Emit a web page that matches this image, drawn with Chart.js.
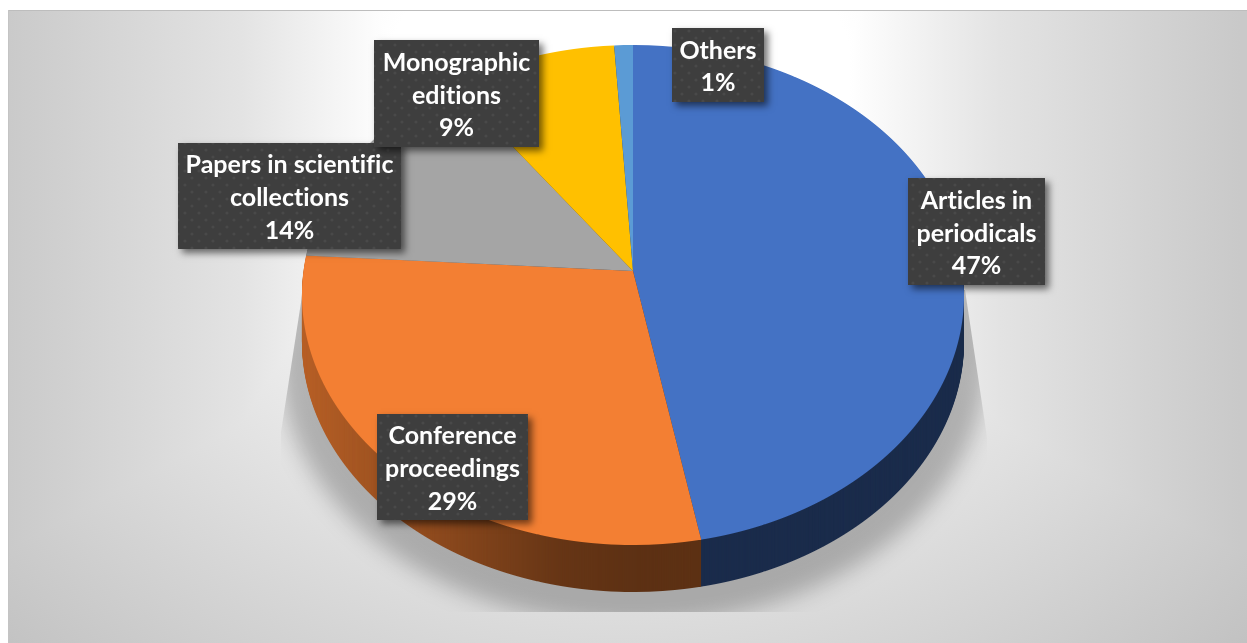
<!DOCTYPE html>
<html>
<head>
<meta charset="utf-8">
<title>Publications by type</title>
<script src="https://cdn.jsdelivr.net/npm/chart.js@4/dist/chart.umd.js"></script>
<style>
  html, body { margin: 0; padding: 0; background: #fff; }
  canvas { display: block; }
</style>
</head>
<body>
<canvas id="pieChart" width="1247" height="643"></canvas>
<script>
const categories = ['Articles in periodicals', 'Conference proceedings', 'Papers in scientific collections', 'Monographic editions', 'Others'];
const shares = [47, 29, 14, 9, 1];
const sliceColors = ['#4472c4', '#f37f33', '#a5a5a5', '#ffc000', '#5b9bd5'];

// where the dark label boxes sit, same order as categories
const labelBoxes = [
  { x: 908, y: 178, w: 137, h: 107 },
  { x: 377, y: 414, w: 151, h: 106 },
  { x: 178, y: 143, w: 223, h: 106 },
  { x: 374, y: 40, w: 165, h: 107 },
  { x: 672, y: 28, w: 92, h: 74 }
];

// tilted disc: apex of the slices on the picture, near side is bigger
const disc = { cx: 633, cy: 271, a: 329.5, b: 247.7, c: 0.096, top: 45, bottom: 546, depth: 47 };

function newLayer(w, h) {
  const c = document.createElement('canvas');
  c.width = w;
  c.height = h;
  return c;
}

// the arcs are painted row by row so that each row gets its own perspective scale
function paintDisc(chart, target) {
  const arcs = chart.getDatasetMeta(0).data;
  const ax = arcs[0].x, ay = arcs[0].y, R = arcs[0].outerRadius;
  for (let y = disc.top; y < disc.bottom; y++) {
    const t = y + 0.5 - disc.cy;
    const v = t / (disc.b + disc.c * t);
    const w = 1 - disc.c * v;
    const sx = disc.a / (w * R);
    const slope = disc.b / (w * w);
    const sy = slope / R;
    target.save();
    target.beginPath();
    target.rect(0, y, chart.width, 1);
    target.clip();
    target.setTransform(sx, 0, 0, sy, disc.cx - sx * ax, y + 0.5 - sy * ay - slope * v);
    arcs.forEach(function (arc) { arc.draw(target); });
    target.restore();
  }
}

const backdrop = {
  id: 'backdrop',
  beforeDraw(chart) {
    const ctx = chart.ctx;
    const W = chart.width, H = chart.height;
    ctx.save();
    ctx.fillStyle = '#fff';
    ctx.fillRect(0, 0, W, H);
    ctx.beginPath();
    ctx.rect(8, 10, W - 8, H - 10);
    ctx.clip();

    // lower falloff
    ctx.save();
    ctx.translate(620, 100);
    ctx.scale(1 / 0.84, 1);
    const low = ctx.createRadialGradient(0, 0, 200, 0, 0, 800);
    low.addColorStop(0, '#ffffff');
    low.addColorStop(1, '#bdbdbd');
    ctx.fillStyle = low;
    ctx.fillRect(-700, -200, 1400, 900);
    ctx.restore();

    // side falloff, the darker of the two wins
    ctx.globalCompositeOperation = 'darken';
    const side = ctx.createLinearGradient(0, 0, 1240, 0);
    side.addColorStop(0, '#c9c9c9');
    side.addColorStop(0.194, '#e3e3e3');
    side.addColorStop(0.315, '#ffffff');
    side.addColorStop(0.685, '#ffffff');
    side.addColorStop(0.806, '#e3e3e3');
    side.addColorStop(1, '#c9c9c9');
    ctx.fillStyle = side;
    ctx.fillRect(0, 0, W, H);
    ctx.restore();

    ctx.fillStyle = '#bdbdbd';
    ctx.fillRect(8, 10, W - 8, 1);
    ctx.fillStyle = '#c4c4c4';
    ctx.fillRect(8, 10, 1, H - 10);
  }
};

const tiltedPie = {
  id: 'tiltedPie',
  beforeDatasetsDraw(chart) {
    const ctx = chart.ctx;
    const W = chart.width, H = chart.height;

    const face = newLayer(W, H);
    paintDisc(chart, face.getContext('2d'));

    // black copy for the cast shadow
    const dark = newLayer(W, H);
    const dctx = dark.getContext('2d');
    dctx.drawImage(face, 0, 0);
    dctx.globalCompositeOperation = 'source-in';
    dctx.fillStyle = '#000';
    dctx.fillRect(0, 0, W, H);

    ctx.save();
    ctx.beginPath();
    ctx.moveTo(306, 270);
    ctx.lineTo(281, 432);
    ctx.lineTo(281, 612);
    ctx.lineTo(987, 612);
    ctx.lineTo(987, 437);
    ctx.lineTo(965, 290);
    ctx.closePath();
    ctx.clip();
    ctx.filter = 'blur(11px)';
    ctx.globalAlpha = 0.24;
    ctx.drawImage(dark, disc.cx - disc.cx * 1.07, 62 - 295 * 0.07, W * 1.07, H * 1.07);
    ctx.restore();

    // side wall: shaded copy of the disc stacked downwards
    const wall = newLayer(W, H);
    const wctx = wall.getContext('2d');
    wctx.drawImage(face, 0, 0);
    wctx.globalCompositeOperation = 'source-atop';
    const shade = wctx.createLinearGradient(303, 0, 700, 0);
    shade.addColorStop(0, 'rgba(0,0,0,0.25)');
    shade.addColorStop(0.65, 'rgba(0,0,0,0.58)');
    shade.addColorStop(0.85, 'rgba(0,0,0,0.62)');
    shade.addColorStop(1, 'rgba(0,0,0,0.62)');
    wctx.fillStyle = shade;
    wctx.fillRect(0, 0, W, H);
    for (let d = disc.depth; d > 0; d--) {
      ctx.drawImage(wall, 0, d);
    }

    ctx.drawImage(face, 0, 0);
    return false;
  }
};

function dotTile() {
  const tile = newLayer(14, 14);
  const t = tile.getContext('2d');
  t.fillStyle = '#3e3e3e';
  t.fillRect(0, 0, 14, 14);
  t.fillStyle = 'rgba(255,255,255,0.06)';
  [[3, 3], [10, 10]].forEach(function (p) {
    t.beginPath();
    t.arc(p[0], p[1], 1.6, 0, Math.PI * 2);
    t.fill();
  });
  return tile;
}

function wrapLabel(ctx, text, maxWidth) {
  const lines = [];
  let line = '';
  text.split(' ').forEach(function (word) {
    const next = line ? line + ' ' + word : word;
    if (line && ctx.measureText(next).width > maxWidth) {
      lines.push(line);
      line = word;
    } else {
      line = next;
    }
  });
  lines.push(line);
  return lines;
}

const sliceLabels = {
  id: 'sliceLabels',
  afterDraw(chart) {
    const ctx = chart.ctx;
    const pattern = ctx.createPattern(dotTile(), 'repeat');
    labelBoxes.forEach(function (box, i) {
      ctx.save();
      ctx.shadowColor = 'rgba(0,0,0,0.55)';
      ctx.shadowBlur = 7;
      ctx.shadowOffsetX = 4;
      ctx.shadowOffsetY = 4;
      ctx.fillStyle = '#3e3e3e';
      ctx.fillRect(box.x, box.y, box.w, box.h);
      ctx.restore();
      ctx.fillStyle = pattern;
      ctx.fillRect(box.x, box.y, box.w, box.h);

      ctx.font = 'bold 25px Lato';
      ctx.textRendering = 'optimizeSpeed'; // no fi/ti ligatures
      ctx.fillStyle = '#fff';
      ctx.textAlign = 'center';
      ctx.textBaseline = 'middle';
      const lines = wrapLabel(ctx, categories[i], box.w - 4).concat(shares[i] + '%');
      const midY = box.y + box.h / 2 + 2;
      lines.forEach(function (line, n) {
        ctx.fillText(line, box.x + box.w / 2, midY + (n - (lines.length - 1) / 2) * 32.7);
      });
    });
  }
};

new Chart(document.getElementById('pieChart').getContext('2d'), {
  type: 'pie',
  data: {
    labels: categories,
    datasets: [{
      data: shares,
      backgroundColor: sliceColors,
      borderWidth: 0
    }]
  },
  options: {
    responsive: false,
    animation: false,
    events: [],
    plugins: {
      legend: { display: false },
      tooltip: { enabled: false }
    }
  },
  plugins: [backdrop, tiltedPie, sliceLabels]
});
</script>
</body>
</html>
